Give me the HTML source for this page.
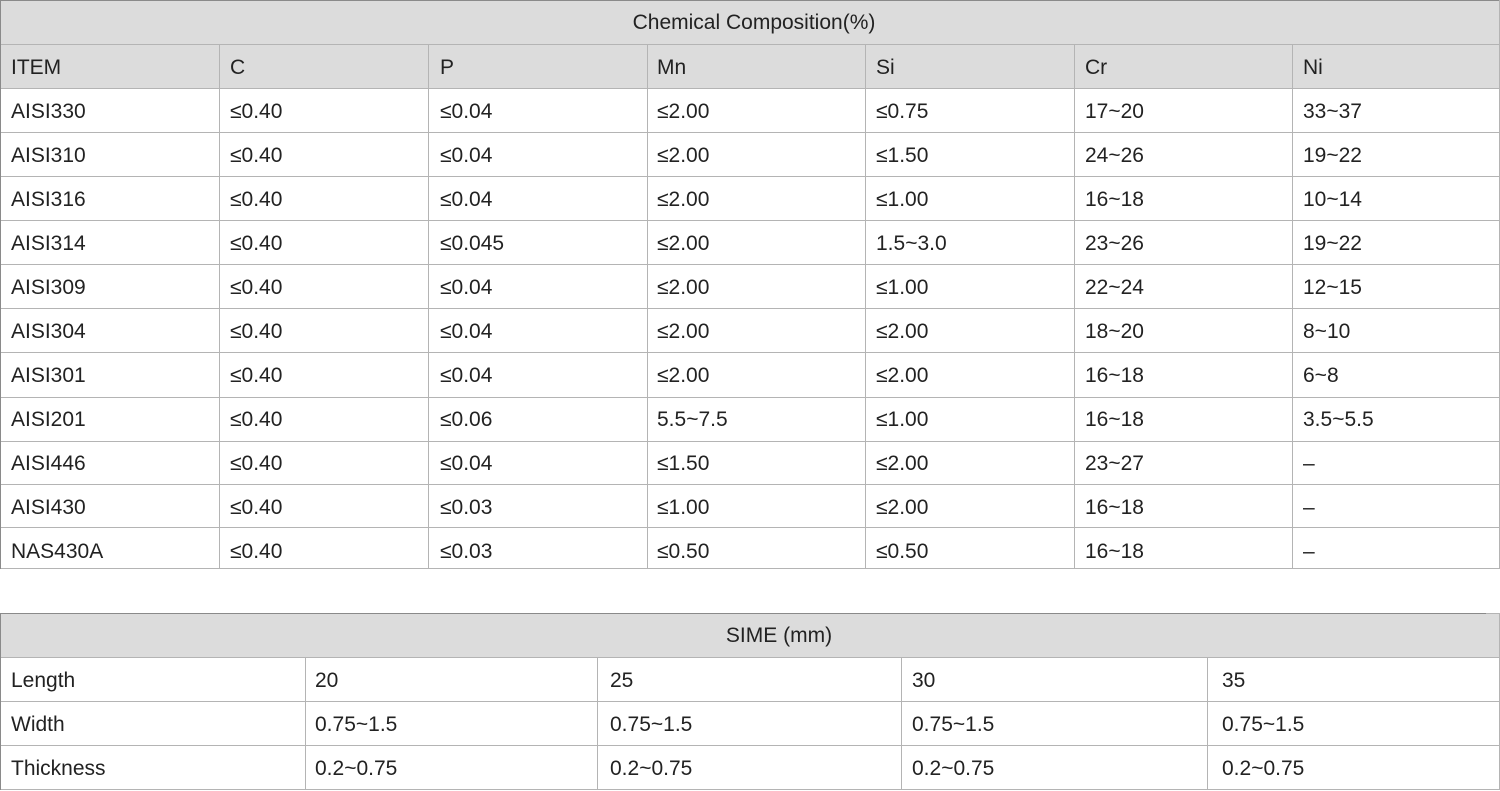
<!DOCTYPE html>
<html>
<head>
<meta charset="utf-8">
<style>
html,body{margin:0;padding:0;background:#fff;}
body{width:1500px;height:790px;position:relative;overflow:hidden;font-family:"Liberation Sans",sans-serif;font-size:21px;color:#222;}
.g{position:absolute;background:#dcdcdc;}
.h{position:absolute;height:1px;background:#b4b4b4;}
.v{position:absolute;width:1px;background:#b4b4b4;}
.d{background:#8a8a8a;}
.t{position:absolute;white-space:nowrap;height:44px;line-height:44px;margin-top:1px;}
</style>
</head>
<body>
<div class="g" style="left:0;top:0;width:1500px;height:88px;"></div>

<div class="h d" style="left:0;top:0;width:1500px;"></div>
<div class="h" style="left:0;top:44px;width:1500px;"></div>
<div class="h" style="left:0;top:88px;width:1500px;"></div>
<div class="h" style="left:0;top:132px;width:1500px;"></div>
<div class="h" style="left:0;top:176px;width:1500px;"></div>
<div class="h" style="left:0;top:220px;width:1500px;"></div>
<div class="h" style="left:0;top:264px;width:1500px;"></div>
<div class="h" style="left:0;top:308px;width:1500px;"></div>
<div class="h" style="left:0;top:352px;width:1500px;"></div>
<div class="h" style="left:0;top:397px;width:1500px;"></div>
<div class="h" style="left:0;top:441px;width:1500px;"></div>
<div class="h" style="left:0;top:484px;width:1500px;"></div>
<div class="h" style="left:0;top:527px;width:1500px;"></div>
<div class="h" style="left:0;top:568px;width:1500px;"></div>

<div class="v d" style="left:0;top:0;height:569px;"></div>
<div class="v" style="left:219px;top:44px;height:525px;"></div>
<div class="v" style="left:428px;top:44px;height:525px;"></div>
<div class="v" style="left:647px;top:44px;height:525px;"></div>
<div class="v" style="left:865px;top:44px;height:525px;"></div>
<div class="v" style="left:1074px;top:44px;height:525px;"></div>
<div class="v" style="left:1292px;top:44px;height:525px;"></div>
<div class="v" style="left:1499px;top:0;height:569px;"></div>

<div class="t" style="left:0;width:1508px;text-align:center;top:0;">Chemical Composition(%)</div>

<div class="t" style="left:11px;top:45px;">ITEM</div>
<div class="t" style="left:230px;top:45px;">C</div>
<div class="t" style="left:440px;top:45px;">P</div>
<div class="t" style="left:657px;top:45px;">Mn</div>
<div class="t" style="left:876px;top:45px;">Si</div>
<div class="t" style="left:1085px;top:45px;">Cr</div>
<div class="t" style="left:1303px;top:45px;">Ni</div>

<div class="t" style="left:11px;top:89px;">AISI330</div>
<div class="t" style="left:230px;top:89px;">≤0.40</div>
<div class="t" style="left:440px;top:89px;">≤0.04</div>
<div class="t" style="left:657px;top:89px;">≤2.00</div>
<div class="t" style="left:876px;top:89px;">≤0.75</div>
<div class="t" style="left:1085px;top:89px;">17~20</div>
<div class="t" style="left:1303px;top:89px;">33~37</div>

<div class="t" style="left:11px;top:133px;">AISI310</div>
<div class="t" style="left:230px;top:133px;">≤0.40</div>
<div class="t" style="left:440px;top:133px;">≤0.04</div>
<div class="t" style="left:657px;top:133px;">≤2.00</div>
<div class="t" style="left:876px;top:133px;">≤1.50</div>
<div class="t" style="left:1085px;top:133px;">24~26</div>
<div class="t" style="left:1303px;top:133px;">19~22</div>

<div class="t" style="left:11px;top:177px;">AISI316</div>
<div class="t" style="left:230px;top:177px;">≤0.40</div>
<div class="t" style="left:440px;top:177px;">≤0.04</div>
<div class="t" style="left:657px;top:177px;">≤2.00</div>
<div class="t" style="left:876px;top:177px;">≤1.00</div>
<div class="t" style="left:1085px;top:177px;">16~18</div>
<div class="t" style="left:1303px;top:177px;">10~14</div>

<div class="t" style="left:11px;top:221px;">AISI314</div>
<div class="t" style="left:230px;top:221px;">≤0.40</div>
<div class="t" style="left:440px;top:221px;">≤0.045</div>
<div class="t" style="left:657px;top:221px;">≤2.00</div>
<div class="t" style="left:876px;top:221px;">1.5~3.0</div>
<div class="t" style="left:1085px;top:221px;">23~26</div>
<div class="t" style="left:1303px;top:221px;">19~22</div>

<div class="t" style="left:11px;top:265px;">AISI309</div>
<div class="t" style="left:230px;top:265px;">≤0.40</div>
<div class="t" style="left:440px;top:265px;">≤0.04</div>
<div class="t" style="left:657px;top:265px;">≤2.00</div>
<div class="t" style="left:876px;top:265px;">≤1.00</div>
<div class="t" style="left:1085px;top:265px;">22~24</div>
<div class="t" style="left:1303px;top:265px;">12~15</div>

<div class="t" style="left:11px;top:309px;">AISI304</div>
<div class="t" style="left:230px;top:309px;">≤0.40</div>
<div class="t" style="left:440px;top:309px;">≤0.04</div>
<div class="t" style="left:657px;top:309px;">≤2.00</div>
<div class="t" style="left:876px;top:309px;">≤2.00</div>
<div class="t" style="left:1085px;top:309px;">18~20</div>
<div class="t" style="left:1303px;top:309px;">8~10</div>

<div class="t" style="left:11px;top:353px;">AISI301</div>
<div class="t" style="left:230px;top:353px;">≤0.40</div>
<div class="t" style="left:440px;top:353px;">≤0.04</div>
<div class="t" style="left:657px;top:353px;">≤2.00</div>
<div class="t" style="left:876px;top:353px;">≤2.00</div>
<div class="t" style="left:1085px;top:353px;">16~18</div>
<div class="t" style="left:1303px;top:353px;">6~8</div>

<div class="t" style="left:11px;top:397px;">AISI201</div>
<div class="t" style="left:230px;top:397px;">≤0.40</div>
<div class="t" style="left:440px;top:397px;">≤0.06</div>
<div class="t" style="left:657px;top:397px;">5.5~7.5</div>
<div class="t" style="left:876px;top:397px;">≤1.00</div>
<div class="t" style="left:1085px;top:397px;">16~18</div>
<div class="t" style="left:1303px;top:397px;">3.5~5.5</div>

<div class="t" style="left:11px;top:441px;">AISI446</div>
<div class="t" style="left:230px;top:441px;">≤0.40</div>
<div class="t" style="left:440px;top:441px;">≤0.04</div>
<div class="t" style="left:657px;top:441px;">≤1.50</div>
<div class="t" style="left:876px;top:441px;">≤2.00</div>
<div class="t" style="left:1085px;top:441px;">23~27</div>
<div class="t" style="left:1303px;top:441px;">–</div>

<div class="t" style="left:11px;top:485px;">AISI430</div>
<div class="t" style="left:230px;top:485px;">≤0.40</div>
<div class="t" style="left:440px;top:485px;">≤0.03</div>
<div class="t" style="left:657px;top:485px;">≤1.00</div>
<div class="t" style="left:876px;top:485px;">≤2.00</div>
<div class="t" style="left:1085px;top:485px;">16~18</div>
<div class="t" style="left:1303px;top:485px;">–</div>

<div class="t" style="left:11px;top:529px;">NAS430A</div>
<div class="t" style="left:230px;top:529px;">≤0.40</div>
<div class="t" style="left:440px;top:529px;">≤0.03</div>
<div class="t" style="left:657px;top:529px;">≤0.50</div>
<div class="t" style="left:876px;top:529px;">≤0.50</div>
<div class="t" style="left:1085px;top:529px;">16~18</div>
<div class="t" style="left:1303px;top:529px;">–</div>

<div class="g" style="left:0;top:613px;width:1500px;height:44px;"></div>
<div class="h d" style="left:0;top:613px;width:1486px;"></div>
<div class="h" style="left:1486px;top:613px;width:14px;"></div>
<div class="h" style="left:0;top:657px;width:1500px;"></div>
<div class="h" style="left:0;top:701px;width:1500px;"></div>
<div class="h" style="left:0;top:745px;width:1500px;"></div>
<div class="h" style="left:0;top:789px;width:1500px;"></div>

<div class="v d" style="left:0;top:613px;height:177px;"></div>
<div class="v" style="left:305px;top:657px;height:133px;"></div>
<div class="v" style="left:597px;top:657px;height:133px;"></div>
<div class="v" style="left:901px;top:657px;height:133px;"></div>
<div class="v" style="left:1207px;top:657px;height:133px;"></div>
<div class="v" style="left:1499px;top:613px;height:177px;"></div>

<div class="t" style="left:0;width:1558px;text-align:center;top:613px;">SIME (mm)</div>

<div class="t" style="left:11px;top:658px;">Length</div>
<div class="t" style="left:315px;top:658px;">20</div>
<div class="t" style="left:610px;top:658px;">25</div>
<div class="t" style="left:912px;top:658px;">30</div>
<div class="t" style="left:1222px;top:658px;">35</div>

<div class="t" style="left:11px;top:702px;">Width</div>
<div class="t" style="left:315px;top:702px;">0.75~1.5</div>
<div class="t" style="left:610px;top:702px;">0.75~1.5</div>
<div class="t" style="left:912px;top:702px;">0.75~1.5</div>
<div class="t" style="left:1222px;top:702px;">0.75~1.5</div>

<div class="t" style="left:11px;top:746px;">Thickness</div>
<div class="t" style="left:315px;top:746px;">0.2~0.75</div>
<div class="t" style="left:610px;top:746px;">0.2~0.75</div>
<div class="t" style="left:912px;top:746px;">0.2~0.75</div>
<div class="t" style="left:1222px;top:746px;">0.2~0.75</div>
</body>
</html>
